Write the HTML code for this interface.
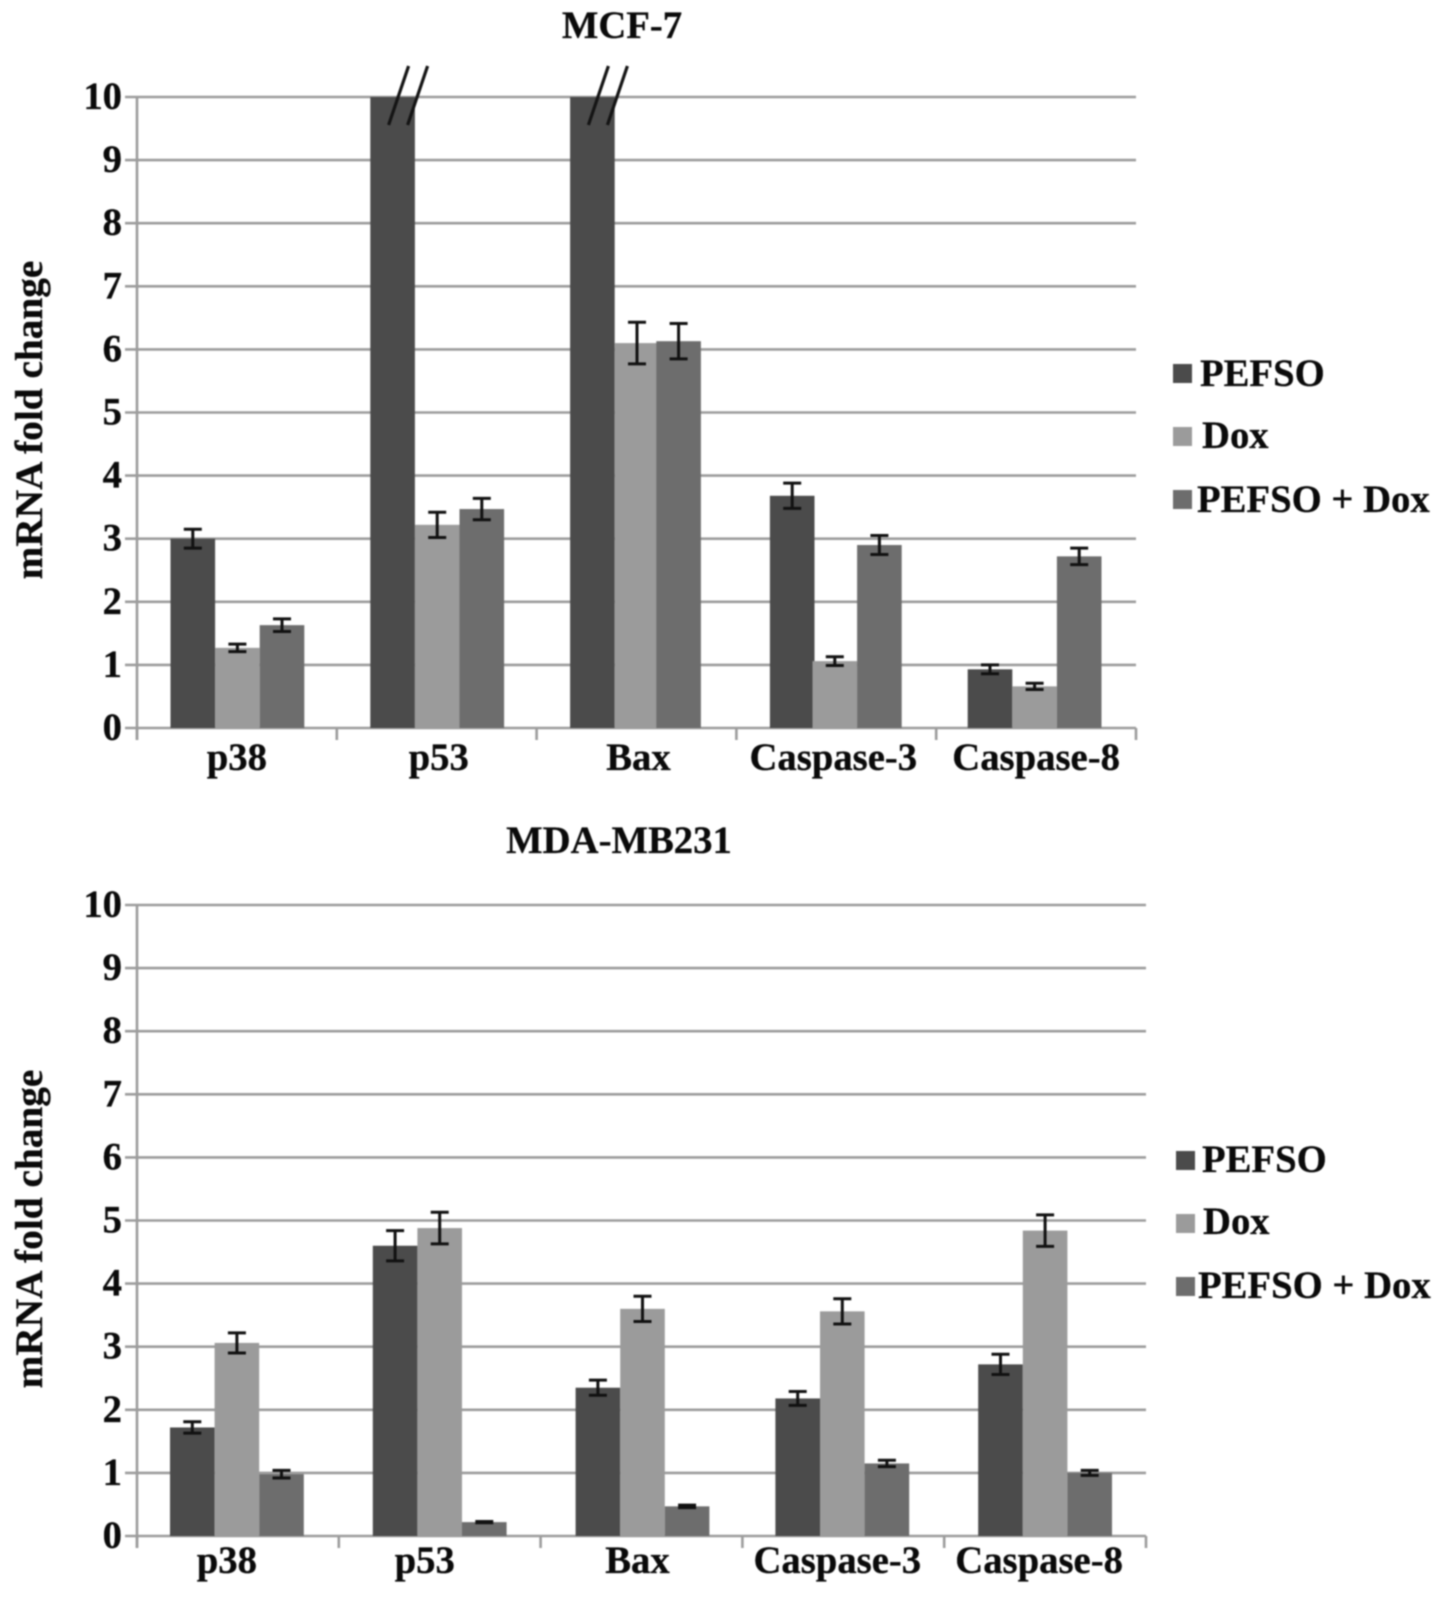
<!DOCTYPE html>
<html>
<head>
<meta charset="utf-8">
<title>mRNA fold change charts</title>
<style>
html,body{margin:0;padding:0;background:#fff;width:1441px;height:1600px;overflow:hidden}
svg{display:block;filter:blur(0.7px)}
text{font-family:"Liberation Serif",serif;font-weight:bold;font-size:38.7px;fill:#0a0a0a;stroke:#0a0a0a;stroke-width:0.3px}
text.ytitle{font-size:39.3px}
</style>
</head>
<body>
<svg id="figure" width="1441" height="1600" viewBox="0 0 1441 1600" xmlns="http://www.w3.org/2000/svg">
  <rect width="1441" height="1600" fill="#ffffff"/>
  <text x="622" y="38" text-anchor="middle">MCF-7</text>
  <text x="619" y="853" text-anchor="middle">MDA-MB231</text>
  <text class="ytitle" transform="translate(42,420) rotate(-90)" text-anchor="middle">mRNA fold change</text>
  <text class="ytitle" transform="translate(42,1229) rotate(-90)" text-anchor="middle">mRNA fold change</text>

  <g>
    <rect x="1173" y="364" width="19" height="19" fill="#4b4b4b"/>
    <text x="1200" y="386">PEFSO</text>
    <rect x="1173" y="427" width="19" height="19" fill="#9b9b9b"/>
    <text x="1202" y="448">Dox</text>
    <rect x="1173" y="490" width="19" height="19" fill="#6d6d6d"/>
    <text x="1197" y="512">PEFSO + Dox</text>
  </g>
  <g>
    <rect x="1176" y="1151" width="19" height="19" fill="#4b4b4b"/>
    <text x="1202" y="1172">PEFSO</text>
    <rect x="1176" y="1214" width="19" height="19" fill="#9b9b9b"/>
    <text x="1203" y="1234">Dox</text>
    <rect x="1176" y="1277" width="19" height="19" fill="#6d6d6d"/>
    <text x="1198" y="1298">PEFSO + Dox</text>
  </g>
</svg>
<script>
// Shared data
const categories = ['p38', 'p53', 'Bax', 'Caspase-3', 'Caspase-8'];
const yTickLabels = [0, 1, 2, 3, 4, 5, 6, 7, 8, 9, 10];
const seriesNames = ['PEFSO', 'Dox', 'PEFSO + Dox'];

// MCF-7 values (values above the axis maximum are drawn with a break mark)
const mcfPefso = [3.0, 14, 14, 3.68, 0.93];
const mcfDox = [1.27, 3.22, 6.1, 1.06, 0.66];
const mcfCombo = [1.63, 3.47, 6.13, 2.9, 2.72];
const mcfPefsoErr = [0.15, 0, 0, 0.2, 0.07];
const mcfDoxErr = [0.06, 0.2, 0.33, 0.07, 0.05];
const mcfComboErr = [0.1, 0.17, 0.28, 0.15, 0.13];

// MDA-MB231 values
const mdaPefso = [1.72, 4.6, 2.35, 2.18, 2.72];
const mdaDox = [3.06, 4.88, 3.6, 3.56, 4.84];
const mdaCombo = [0.98, 0.22, 0.47, 1.15, 1.0];
const mdaPefsoErr = [0.09, 0.24, 0.12, 0.11, 0.16];
const mdaDoxErr = [0.16, 0.25, 0.2, 0.2, 0.25];
const mdaComboErr = [0.06, 0.01, 0.02, 0.05, 0.04];

const seriesColors = ['#4b4b4b', '#9b9b9b', '#6d6d6d'];
const svg = document.getElementById('figure');
const NS = 'http://www.w3.org/2000/svg';

function make(parent, tag, attrs) {
  const el = document.createElementNS(NS, tag);
  for (const k in attrs) el.setAttribute(k, attrs[k]);
  parent.appendChild(el);
  return el;
}

function drawChart(cfg) {
  const yMax = yTickLabels[yTickLabels.length - 1];
  const yScale = function (v) { return cfg.y0 - (Math.min(v, yMax) / yMax) * (cfg.y0 - cfg.y1); };
  const groupWidth = (cfg.x1 - cfg.x0) / categories.length;
  const xScale = function (g, s) {
    return cfg.x0 + g * groupWidth + cfg.pad + s * cfg.barWidth + cfg.groupNudge[g] + (s > 0 ? cfg.secondNudge[g] : 0) + (s > 1 ? cfg.thirdNudge[g] : 0);
  };

  const root = make(svg, 'g', {});
  
  

  yTickLabels.forEach(function (t) {
    const y = yScale(t);
    const grid = make(root, 'line', { x1: cfg.x0 - 12, x2: cfg.x1, y1: y, y2: y, stroke: '#9c9c9c', 'stroke-width': 2.6 });
    
    
    const label = make(root, 'text', { x: cfg.x0 - 15, y: y + 12, 'text-anchor': 'end' });
    
    
    label.textContent = t;
  });

  const yAxis = make(root, 'line', { x1: cfg.x0, x2: cfg.x0, y1: cfg.y1, y2: cfg.y0 + 12, stroke: '#9c9c9c', 'stroke-width': 2.6 });
  
  

  for (let g = 0; g <= categories.length; g++) {
    const tx = cfg.x0 + g * groupWidth;
    const tick = make(root, 'line', { x1: tx, x2: tx, y1: cfg.y0, y2: cfg.y0 + 12, stroke: '#9c9c9c', 'stroke-width': 2.6 });
    
    
  }

  categories.forEach(function (cat, g) {
    const label = make(root, 'text', {
      x: cfg.x0 + (g + 0.5) * groupWidth + cfg.labelNudge[g],
      y: cfg.labelY,
      'text-anchor': 'middle'
    });
    
    
    label.textContent = cat;
  });

  cfg.series.forEach(function (vals, s) {
    vals.forEach(function (v, g) {
      const top = yScale(v);
      const x = xScale(g, s);
      const bar = make(root, 'rect', {
        x: x, y: top, width: cfg.barWidth, height: cfg.y0 - top, fill: seriesColors[s]
      });
      
      
    });
  });

  cfg.series.forEach(function (vals, s) {
    vals.forEach(function (v, g) {
      const cx = xScale(g, s) + cfg.barWidth / 2;
      const top = yScale(v);
      if (v > yMax) {
        [6, 25].forEach(function (dx) {
          const br = make(root, 'line', {
            x1: cx + dx - 10, y1: top + 28, x2: cx + dx + 10, y2: top - 31,
            stroke: '#141414', 'stroke-width': 3.2
          });
          
          
        });
        return;
      }
      const e = cfg.errors[s][g];
      if (!e) return;
      const hi = yScale(v + e), lo = yScale(v - e);
      const body = make(root, 'path', {
        d: 'M' + cx + ' ' + hi + 'V' + lo +
           'M' + (cx - 9) + ' ' + hi + 'H' + (cx + 9) +
           'M' + (cx - 9) + ' ' + lo + 'H' + (cx + 9),
        fill: 'none', stroke: '#111111', 'stroke-width': 3
      });
      
      
    });
  });
}

drawChart({
  name: 'mcf7', x0: 137, x1: 1136, y0: 728, y1: 97, pad: 33.5, barWidth: 44.6, labelY: 770,
  labelNudge: [0, 2, 2, -3, 0],
  groupNudge: [0, 0, 0, 0, -2],
  secondNudge: [0, 0, 0, -2, 0],
  thirdNudge: [0, 0, -3, 0, 0],
  series: [mcfPefso, mcfDox, mcfCombo],
  errors: [mcfPefsoErr, mcfDoxErr, mcfComboErr]
});
drawChart({
  name: 'mda', x0: 137, x1: 1146, y0: 1536, y1: 905, pad: 33, barWidth: 44.6, labelY: 1573,
  labelNudge: [-11, -15, -4, -6, -6],
  groupNudge: [0, 1, 2, 0, 1],
  secondNudge: [0, 0, 0, 0, 0],
  thirdNudge: [0, 0, 0, 0, 0],
  series: [mdaPefso, mdaDox, mdaCombo],
  errors: [mdaPefsoErr, mdaDoxErr, mdaComboErr]
});
</script>
</body>
</html>
